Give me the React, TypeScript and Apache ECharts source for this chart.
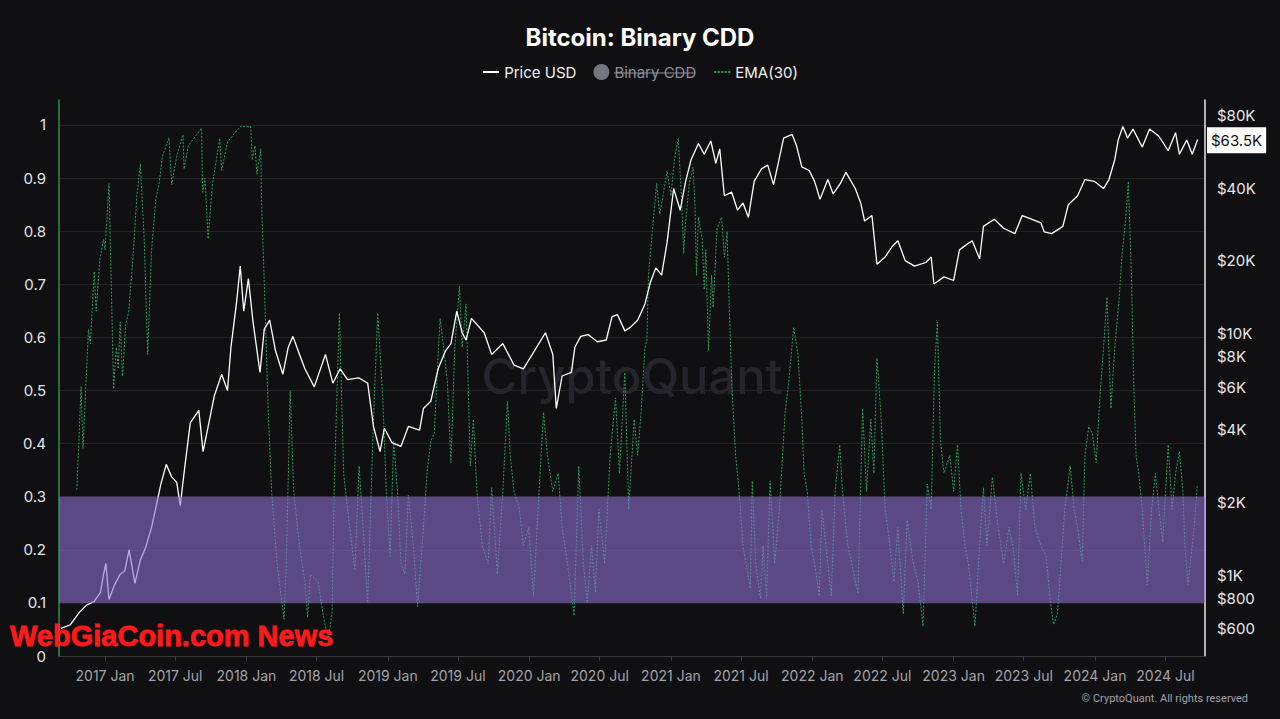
import React, { useEffect, useRef } from 'react';
import * as echarts from 'echarts';

// ---- axis ticks ----
const leftTicks = [0, 0.1, 0.2, 0.3, 0.4, 0.5, 0.6, 0.7, 0.8, 0.9, 1];
const priceTicks = [600, 800, 1000, 2000, 4000, 6000, 8000, 10000, 20000, 40000, 80000];
const xTickDates = [
  '2017-01-01', '2017-07-01', '2018-01-01', '2018-07-01', '2019-01-01', '2019-07-01',
  '2020-01-01', '2020-07-01', '2021-01-01', '2021-07-01', '2022-01-01', '2022-07-01',
  '2023-01-01', '2023-07-01', '2024-01-01', '2024-07-01',
];
const monthNames = ['Jan', 'Feb', 'Mar', 'Apr', 'May', 'Jun', 'Jul', 'Aug', 'Sep', 'Oct', 'Nov', 'Dec'];
const xRange = ['2016-09-04', '2024-10-11'];
const priceRange = [462, 92600];
const cddRange = [0, 1.047];
const bandRange = [0.1, 0.3];

// ---- series: Price USD ----
const priceSeries: [string, number][] = [
  ['2016-09-09', 601], ['2016-10-03', 622], ['2016-10-27', 702], ['2016-11-15', 752], ['2016-12-04', 778],
  ['2016-12-20', 848], ['2016-12-28', 1007], ['2017-01-03', 1116], ['2017-01-11', 792], ['2017-01-25', 908],
  ['2017-02-09', 1007], ['2017-02-21', 1042], ['2017-03-04', 1272], ['2017-03-19', 924], ['2017-04-02', 1155],
  ['2017-04-16', 1303], ['2017-05-01', 1574], ['2017-05-15', 2000], ['2017-05-25', 2377], ['2017-06-08', 2871],
  ['2017-06-22', 2547], ['2017-07-05', 2418], ['2017-07-14', 1935], ['2017-07-26', 2823], ['2017-08-09', 4264],
  ['2017-08-31', 4809], ['2017-09-11', 3240], ['2017-09-26', 4264], ['2017-10-10', 5518], ['2017-10-29', 6781],
  ['2017-11-13', 5810], ['2017-11-22', 8774], ['2017-12-06', 13250], ['2017-12-16', 19010], ['2017-12-25', 12370],
  ['2018-01-06', 16860], ['2018-01-18', 11160], ['2018-02-05', 6900], ['2018-02-16', 10420], ['2018-03-02', 11350],
  ['2018-03-17', 8478], ['2018-04-05', 6781], ['2018-04-19', 8774], ['2018-05-01', 9728], ['2018-05-18', 8190],
  ['2018-06-01', 7140], ['2018-06-25', 6012], ['2018-07-24', 8190], ['2018-08-12', 6224], ['2018-08-31', 7140],
  ['2018-09-19', 6440], ['2018-10-18', 6553], ['2018-11-10', 6224], ['2018-11-25', 4120], ['2018-12-12', 3240],
  ['2018-12-23', 4050], ['2019-01-12', 3530], ['2019-02-04', 3411], ['2019-02-23', 4120], ['2019-03-24', 3980],
  ['2019-04-03', 4892], ['2019-04-22', 5241], ['2019-05-11', 7140], ['2019-05-30', 8478], ['2019-06-13', 9081],
  ['2019-06-28', 12370], ['2019-07-12', 10070], ['2019-07-22', 9396], ['2019-08-05', 11550], ['2019-09-07', 10070],
  ['2019-09-26', 8190], ['2019-10-25', 9081], ['2019-11-23', 7390], ['2019-12-17', 7140], ['2020-01-09', 8190],
  ['2020-02-12', 10070], ['2020-03-02', 8190], ['2020-03-11', 4892], ['2020-03-26', 6667], ['2020-04-19', 6900],
  ['2020-04-28', 8774], ['2020-05-13', 9728], ['2020-06-01', 9900], ['2020-06-25', 9240], ['2020-07-18', 9396],
  ['2020-08-02', 11750], ['2020-08-16', 11960], ['2020-09-04', 10250], ['2020-09-18', 10600], ['2020-10-07', 11350],
  ['2020-10-26', 13250], ['2020-11-09', 16290], ['2020-11-23', 18690], ['2020-12-08', 17450], ['2020-12-22', 23770],
  ['2021-01-08', 39810], ['2021-01-25', 32380], ['2021-02-08', 42640], ['2021-02-22', 52400], ['2021-03-13', 61200],
  ['2021-03-28', 55180], ['2021-04-14', 62640], ['2021-04-27', 50630], ['2021-05-07', 58120], ['2021-05-19', 37170],
  ['2021-06-07', 38450], ['2021-06-22', 32380], ['2021-07-06', 34700], ['2021-07-20', 30230], ['2021-08-04', 42640],
  ['2021-08-23', 48100], ['2021-09-08', 49780], ['2021-09-23', 41210], ['2021-10-09', 54240], ['2021-10-19', 64400],
  ['2021-11-10', 66680], ['2021-11-21', 60140], ['2021-12-05', 48920], ['2021-12-24', 47280], ['2022-01-07', 42640],
  ['2022-01-21', 35910], ['2022-02-10', 43380], ['2022-02-24', 37810], ['2022-03-15', 41910], ['2022-03-29', 46470],
  ['2022-04-22', 39810], ['2022-05-06', 34700], ['2022-05-16', 29220], ['2022-06-04', 30760], ['2022-06-17', 19350],
  ['2022-07-08', 20720], ['2022-07-27', 22970], ['2022-08-10', 24190], ['2022-08-29', 20020], ['2022-09-22', 19010],
  ['2022-10-21', 19670], ['2022-11-04', 20720], ['2022-11-11', 16020], ['2022-12-07', 17150], ['2023-01-01', 16570],
  ['2023-01-16', 22190], ['2023-02-04', 23380], ['2023-02-18', 24190], ['2023-03-09', 20370], ['2023-03-19', 27750],
  ['2023-04-16', 29720], ['2023-05-10', 27270], ['2023-06-08', 25900], ['2023-06-27', 30760], ['2023-07-21', 29720],
  ['2023-08-14', 28720], ['2023-08-23', 26350], ['2023-09-11', 25900], ['2023-10-10', 27750], ['2023-10-24', 34110],
  ['2023-11-17', 37170], ['2023-12-06', 43380], ['2023-12-30', 42640], ['2024-01-23', 39810], ['2024-02-06', 43380],
  ['2024-02-21', 52400], ['2024-03-01', 63300], ['2024-03-13', 71900], ['2024-03-25', 64400], ['2024-04-08', 70190],
  ['2024-05-02', 59100], ['2024-05-21', 70190], ['2024-06-14', 65530], ['2024-07-08', 57090], ['2024-07-27', 67790],
  ['2024-08-06', 55180], ['2024-08-25', 63300], ['2024-09-08', 55180], ['2024-09-22', 63500],
];

// ---- series: EMA(30) of Binary CDD ----
const emaSeries: [string, number][] = [
  ['2016-10-20', 0.313], ['2016-10-31', 0.507], ['2016-11-05', 0.391], ['2016-11-19', 0.615], ['2016-11-24', 0.588],
  ['2016-12-04', 0.724], ['2016-12-09', 0.649], ['2016-12-18', 0.744], ['2016-12-28', 0.785], ['2017-01-01', 0.765],
  ['2017-01-11', 0.89], ['2017-01-23', 0.503], ['2017-01-30', 0.581], ['2017-02-04', 0.541], ['2017-02-09', 0.629],
  ['2017-02-15', 0.527], ['2017-02-23', 0.622], ['2017-03-03', 0.649], ['2017-03-14', 0.751], ['2017-03-24', 0.866],
  ['2017-04-02', 0.927], ['2017-04-12', 0.785], ['2017-04-21', 0.568], ['2017-05-01', 0.765], ['2017-05-12', 0.86],
  ['2017-05-20', 0.887], ['2017-05-29', 0.941], ['2017-06-15', 0.976], ['2017-06-22', 0.887], ['2017-07-05', 0.941],
  ['2017-07-21', 0.982], ['2017-07-24', 0.917], ['2017-08-04', 0.961], ['2017-09-07', 0.994], ['2017-09-10', 0.873],
  ['2017-09-16', 0.9], ['2017-09-24', 0.785], ['2017-10-05', 0.887], ['2017-10-24', 0.975], ['2017-10-29', 0.914],
  ['2017-11-13', 0.968], ['2017-12-16', 0.997], ['2018-01-12', 0.997], ['2018-01-16', 0.934], ['2018-01-23', 0.961],
  ['2018-01-28', 0.907], ['2018-02-07', 0.955], ['2018-02-09', 0.853], ['2018-02-16', 0.704], ['2018-02-26', 0.466],
  ['2018-03-07', 0.31], ['2018-03-21', 0.174], ['2018-04-08', 0.069], ['2018-04-14', 0.174], ['2018-04-24', 0.5],
  ['2018-05-03', 0.31], ['2018-05-18', 0.208], ['2018-06-01', 0.14], ['2018-06-08', 0.073], ['2018-06-15', 0.154],
  ['2018-07-05', 0.14], ['2018-07-19', 0.073], ['2018-07-31', 0.032], ['2018-08-10', 0.079], ['2018-08-16', 0.33],
  ['2018-08-29', 0.646], ['2018-09-09', 0.344], ['2018-09-19', 0.276], ['2018-10-08', 0.161], ['2018-10-19', 0.358],
  ['2018-11-01', 0.208], ['2018-11-10', 0.1], ['2018-11-25', 0.446], ['2018-12-06', 0.646], ['2018-12-19', 0.486],
  ['2018-12-28', 0.31], ['2019-01-07', 0.188], ['2019-01-16', 0.405], ['2019-01-26', 0.31], ['2019-02-04', 0.174],
  ['2019-02-14', 0.154], ['2019-02-23', 0.303], ['2019-03-08', 0.208], ['2019-03-19', 0.093], ['2019-04-03', 0.242],
  ['2019-04-12', 0.344], ['2019-04-22', 0.405], ['2019-05-01', 0.419], ['2019-05-11', 0.568], ['2019-05-16', 0.636],
  ['2019-05-25', 0.581], ['2019-06-04', 0.514], ['2019-06-13', 0.364], ['2019-06-23', 0.581], ['2019-07-05', 0.697],
  ['2019-07-12', 0.581], ['2019-07-22', 0.663], ['2019-08-02', 0.358], ['2019-08-10', 0.446], ['2019-08-19', 0.31],
  ['2019-09-02', 0.208], ['2019-09-17', 0.174], ['2019-09-26', 0.317], ['2019-10-11', 0.154], ['2019-10-25', 0.31],
  ['2019-11-06', 0.48], ['2019-11-13', 0.378], ['2019-11-23', 0.31], ['2019-12-07', 0.276], ['2019-12-17', 0.208],
  ['2019-12-31', 0.242], ['2020-01-12', 0.113], ['2020-01-24', 0.276], ['2020-02-07', 0.459], ['2020-02-17', 0.378],
  ['2020-03-02', 0.31], ['2020-03-16', 0.344], ['2020-03-26', 0.242], ['2020-04-09', 0.174], ['2020-04-26', 0.076],
  ['2020-05-08', 0.358], ['2020-05-20', 0.174], ['2020-05-30', 0.1], ['2020-06-10', 0.208], ['2020-06-20', 0.12],
  ['2020-06-29', 0.276], ['2020-07-14', 0.174], ['2020-07-28', 0.378], ['2020-08-11', 0.486], ['2020-08-21', 0.344],
  ['2020-09-04', 0.534], ['2020-09-14', 0.276], ['2020-09-28', 0.446], ['2020-10-07', 0.378], ['2020-10-16', 0.459],
  ['2020-10-26', 0.581], ['2020-10-31', 0.595], ['2020-11-04', 0.717], ['2020-11-14', 0.799], ['2020-11-25', 0.89],
  ['2020-12-03', 0.832], ['2020-12-13', 0.873], ['2020-12-22', 0.914], ['2021-01-01', 0.866], ['2021-01-10', 0.934],
  ['2021-01-20', 0.975], ['2021-01-29', 0.853], ['2021-02-03', 0.758], ['2021-02-08', 0.819], ['2021-02-17', 0.887],
  ['2021-02-27', 0.921], ['2021-03-04', 0.853], ['2021-03-08', 0.717], ['2021-03-13', 0.826], ['2021-03-23', 0.785],
  ['2021-03-28', 0.69], ['2021-04-01', 0.765], ['2021-04-08', 0.575], ['2021-04-16', 0.717], ['2021-04-20', 0.656],
  ['2021-04-30', 0.805], ['2021-05-12', 0.826], ['2021-05-19', 0.751], ['2021-05-26', 0.799], ['2021-06-01', 0.649],
  ['2021-06-07', 0.514], ['2021-06-17', 0.378], ['2021-06-26', 0.31], ['2021-07-06', 0.208], ['2021-07-25', 0.127],
  ['2021-07-30', 0.33], ['2021-08-08', 0.174], ['2021-08-20', 0.107], ['2021-08-27', 0.208], ['2021-09-05', 0.107],
  ['2021-09-14', 0.33], ['2021-09-26', 0.174], ['2021-10-08', 0.276], ['2021-10-23', 0.459], ['2021-11-01', 0.514],
  ['2021-11-14', 0.619], ['2021-11-25', 0.568], ['2021-12-05', 0.446], ['2021-12-11', 0.344], ['2021-12-19', 0.31],
  ['2021-12-29', 0.208], ['2022-01-07', 0.174], ['2022-01-19', 0.113], ['2022-01-26', 0.276], ['2022-02-10', 0.174],
  ['2022-02-19', 0.113], ['2022-03-01', 0.31], ['2022-03-13', 0.398], ['2022-03-20', 0.31], ['2022-04-03', 0.208],
  ['2022-04-13', 0.174], ['2022-04-29', 0.117], ['2022-05-11', 0.466], ['2022-05-21', 0.31], ['2022-06-01', 0.446],
  ['2022-06-09', 0.344], ['2022-06-17', 0.561], ['2022-06-28', 0.446], ['2022-07-08', 0.276], ['2022-07-17', 0.229],
  ['2022-07-31', 0.14], ['2022-08-10', 0.242], ['2022-08-24', 0.079], ['2022-09-03', 0.256], ['2022-09-17', 0.181],
  ['2022-10-01', 0.14], ['2022-10-14', 0.056], ['2022-10-25', 0.324], ['2022-11-04', 0.276], ['2022-11-13', 0.547],
  ['2022-11-20', 0.629], ['2022-11-28', 0.405], ['2022-12-07', 0.344], ['2022-12-22', 0.378], ['2023-01-01', 0.31],
  ['2023-01-11', 0.398], ['2023-01-20', 0.276], ['2023-01-30', 0.208], ['2023-02-08', 0.174], ['2023-02-25', 0.056],
  ['2023-03-09', 0.208], ['2023-03-19', 0.317], ['2023-03-28', 0.208], ['2023-04-11', 0.337], ['2023-04-26', 0.242],
  ['2023-05-10', 0.174], ['2023-05-24', 0.242], ['2023-06-03', 0.208], ['2023-06-15', 0.113], ['2023-06-24', 0.344],
  ['2023-07-06', 0.276], ['2023-07-18', 0.344], ['2023-07-30', 0.242], ['2023-08-14', 0.208], ['2023-08-28', 0.188],
  ['2023-09-07', 0.107], ['2023-09-16', 0.059], ['2023-09-26', 0.079], ['2023-10-05', 0.174], ['2023-10-15', 0.276],
  ['2023-10-29', 0.358], ['2023-11-08', 0.276], ['2023-11-17', 0.242], ['2023-11-29', 0.178], ['2023-12-06', 0.378],
  ['2023-12-16', 0.432], ['2023-12-25', 0.419], ['2024-01-04', 0.364], ['2024-01-13', 0.48], ['2024-01-23', 0.581],
  ['2024-02-01', 0.676], ['2024-02-11', 0.466], ['2024-02-21', 0.581], ['2024-03-03', 0.67], ['2024-03-11', 0.758],
  ['2024-03-20', 0.819], ['2024-03-27', 0.894], ['2024-04-04', 0.717], ['2024-04-10', 0.514], ['2024-04-16', 0.378],
  ['2024-04-23', 0.344], ['2024-05-02', 0.276], ['2024-05-15', 0.134], ['2024-05-26', 0.276], ['2024-06-05', 0.344],
  ['2024-06-14', 0.276], ['2024-06-24', 0.215], ['2024-07-08', 0.398], ['2024-07-18', 0.276], ['2024-07-27', 0.344],
  ['2024-08-06', 0.385], ['2024-08-15', 0.31], ['2024-08-20', 0.208], ['2024-08-28', 0.134], ['2024-09-03', 0.174],
  ['2024-09-13', 0.242], ['2024-09-21', 0.32],
];

// Binary CDD itself is hidden (deselected in the legend) in the reference
const binaryCddSeries: [string, number][] = [];

const FONT = 'Inter, "Noto Sans", sans-serif';

function fmtPrice(p: number): string {
  if (p >= 1000) {
    const k = p / 1000;
    return '$' + (Number.isInteger(k) ? String(k) : k.toFixed(1)) + 'K';
  }
  return '$' + p;
}

export default function App() {
  const ref = useRef<HTMLDivElement>(null);

  useEffect(() => {
    if (!ref.current) return;
    const chart = echarts.init(ref.current, undefined, { renderer: 'svg' });

    const xTickValues = xTickDates.map((d) => Date.parse(d));
    const priceTickValues = priceTicks.map((p) => Math.log10(p));
    const lastPrice = priceSeries[priceSeries.length - 1][1];

    const option: any = {
      animation: false,
      backgroundColor: '#101013',
      textStyle: { fontFamily: FONT },
      title: {
        text: 'Bitcoin: Binary CDD',
        left: 'center',
        top: 25,
        padding: 0,
        textStyle: { color: '#ffffff', fontSize: 24, fontWeight: 700, fontFamily: FONT },
      },
      legend: {
        top: 64,
        left: 'center',
        padding: 0,
        itemGap: 17,
        itemWidth: 16,
        itemHeight: 16,
        selected: { 'Binary CDD': false },
        inactiveColor: '#8e8e98',
        inactiveBorderColor: '#8e8e98',
        textStyle: { color: '#f0f0f0', fontSize: 15, fontFamily: FONT },
        data: [
          { name: 'Price USD', itemStyle: { opacity: 0, borderWidth: 0 } },
          { name: 'Binary CDD', icon: 'circle' },
          { name: 'EMA(30)', itemStyle: { opacity: 0, borderWidth: 0 } },
        ],
      },
      grid: { left: 59, right: 75, top: 100, bottom: 63 },
      xAxis: {
        type: 'value',
        min: Date.parse(xRange[0]),
        max: Date.parse(xRange[1]),
        axisLine: { show: true, onZero: false, lineStyle: { color: '#3a3a40', width: 1 } },
        axisTick: { show: true, customValues: xTickValues, length: 5, lineStyle: { color: '#3a3a40' } },
        axisLabel: {
          customValues: xTickValues,
          color: '#a2a2aa',
          fontSize: 14,
          margin: 12,
          fontFamily: FONT,
          formatter: (v: number) => {
            const d = new Date(v);
            return d.getUTCFullYear() + ' ' + monthNames[d.getUTCMonth()];
          },
        },
        splitLine: { show: false },
      },
      yAxis: [
        {
          type: 'value',
          position: 'left',
          min: cddRange[0],
          max: cddRange[1],
          axisLine: { show: true, onZero: false, lineStyle: { color: '#2f8a55', width: 1.5 } },
          axisTick: { show: false, customValues: leftTicks },
          axisLabel: {
            customValues: leftTicks,
            color: '#e4e4e4',
            fontSize: 15,
            margin: 13,
            fontFamily: FONT,
            formatter: (v: number) => String(Math.round(v * 10) / 10),
          },
          splitLine: { show: true, lineStyle: { color: '#232328', width: 1 } },
        },
        {
          type: 'value',
          position: 'right',
          min: Math.log10(priceRange[0]),
          max: Math.log10(priceRange[1]),
          axisLine: { show: true, onZero: false, lineStyle: { color: '#e6e6e6', width: 1.5 } },
          axisTick: { show: false, customValues: priceTickValues },
          axisLabel: {
            customValues: priceTickValues,
            color: '#e8e8e8',
            fontSize: 15,
            margin: 12,
            fontFamily: FONT,
            formatter: (v: number) => fmtPrice(Math.round(Math.pow(10, v))),
          },
          splitLine: { show: false },
        },
      ],
      series: [
        {
          name: 'Price USD',
          type: 'line',
          yAxisIndex: 1,
          symbol: 'none',
          showSymbol: false,
          z: 3,
          lineStyle: { color: '#ffffff', width: 1.3 },
          itemStyle: { color: '#ffffff' },
          data: priceSeries.map(([d, p]) => [Date.parse(d), Math.log10(p)]),
          markLine: {
            silent: true,
            symbol: 'none',
            z: 6,
            lineStyle: { color: 'rgba(0,0,0,0)', width: 0, type: 'solid' },
            label: {
              show: true,
              opacity: 1,
              position: 'end',
              distance: 2,
              formatter: () => fmtPrice(lastPrice),
              backgroundColor: '#ffffff',
              color: '#111111',
              fontSize: 15,
              fontFamily: FONT,
              padding: [6, 4, 5, 4],
            },
            data: [{ yAxis: Math.log10(lastPrice) }],
          },
        },
        {
          name: 'Binary CDD',
          type: 'scatter',
          yAxisIndex: 0,
          symbolSize: 4,
          itemStyle: { color: '#a0a0aa' },
          data: binaryCddSeries.map(([d, v]) => [Date.parse(d), v]),
        },
        {
          name: 'EMA(30)',
          type: 'line',
          yAxisIndex: 0,
          symbol: 'none',
          showSymbol: false,
          z: 2,
          lineStyle: { color: '#2f9e5e', width: 1, type: [2, 1.5] },
          itemStyle: { color: '#2f9e5e' },
          data: emaSeries.map(([d, v]) => [Date.parse(d), v]),
          markArea: {
            silent: true,
            z: 10,
            itemStyle: { color: 'rgba(142,112,210,0.6)' },
            data: [[{ yAxis: bandRange[0] }, { yAxis: bandRange[1] }]],
          },
        },
      ],
      graphic: [
        {
          type: 'text',
          x: 632,
          y: 376,
          z: 0,
          silent: true,
          style: {
            text: 'CryptoQuant',
            fill: '#25252b',
            fontSize: 49,
            fontWeight: 500,
            fontFamily: FONT,
            align: 'center',
            verticalAlign: 'middle',
          },
        },
        {
          type: 'text',
          x: 10,
          y: 636,
          z: 100,
          silent: true,
          style: {
            text: 'WebGiaCoin.com News',
            fill: '#ff1a1a',
            stroke: '#ff1a1a',
            lineWidth: 0.8,
            fontSize: 29,
            fontWeight: 900,
            fontFamily: '"Liberation Sans", Arial, sans-serif',
            verticalAlign: 'middle',
          },
        },
        {
          type: 'text',
          x: 1248,
          y: 698,
          z: 100,
          silent: true,
          style: {
            text: '© CryptoQuant. All rights reserved',
            fill: '#a0a0a8',
            fontSize: 11,
            fontFamily: 'Roboto, "Noto Sans", sans-serif',
            align: 'right',
            verticalAlign: 'middle',
          },
        },
        {
          type: 'line',
          z: 100,
          silent: true,
          shape: { x1: 614, y1: 73, x2: 695, y2: 73 },
          style: { stroke: '#8e8e98', lineWidth: 1 },
        },
      ],
    };

    chart.setOption(option);
    return () => chart.dispose();
  }, []);

  return (
    <div
      ref={ref}
      style={{ position: 'fixed', left: 0, top: 0, width: 1280, height: 719 }}
    />
  );
}
